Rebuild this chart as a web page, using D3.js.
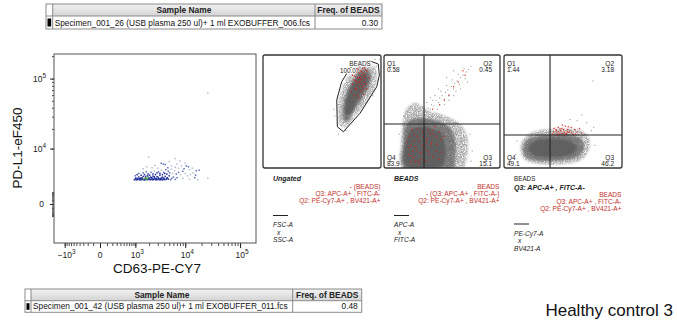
<!DOCTYPE html>
<html>
<head>
<meta charset="utf-8">
<script src="https://cdn.jsdelivr.net/npm/d3@7"></script>
<style>
  body { margin: 0; background: #fff; }
  svg { display: block; font-family: "Liberation Sans", Arial, sans-serif; }
</style>
</head>
<body>
<svg id="chart" width="677" height="323"></svg>
<script>
// ---------- data ----------
const tableHeaders = ["Sample Name", "Freq. of BEADS"];
const topSampleName = "Specimen_001_26 (USB plasma 250 ul)+ 1 ml EXOBUFFER_006.fcs";
const topFreq = "0.30";
const bottomSampleName = "Specimen_001_42 (USB plasma 250 ul)+ 1 ml EXOBUFFER_011.fcs";
const bottomFreq = "0.48";
const caseLabel = "Healthy control 3";

const mainXLabel = "CD63-PE-CY7";
const mainYLabel = "PD-L1-eF450";
const mainTicksX = [-1000, 0, 1000, 10000, 100000];
const mainTicksY = [0, 10000, 100000];

// events of the large plot: [CD63-PE-CY7, PD-L1-eF450]
const mainEvents = [
  [950,2500],[1000,2600],[1050,2480],[1100,2700],[1150,2550],[1200,2900],[1250,2500],[1300,2650],
  [1350,2800],[1400,2520],[1450,2600],[1500,3000],[1550,2480],[1600,2700],[1650,2550],[1700,2850],
  [1750,2500],[1800,2650],[1850,3100],[1900,2520],[1950,2750],[2000,2600],[2100,2480],[2150,2900],
  [2200,2550],[2300,2700],[2350,2500],[2400,3050],[2500,2600],[2600,2800],[2700,2500],[2800,2650],
  [2900,2950],[3000,2520],[3100,2700],[3200,2600],[3300,3200],[3400,2500],[3500,2750],[3600,2600],
  [3700,2900],[3800,2520],[4000,2650],[4200,3000],[4400,2550],[4600,2800],[4800,2600],[5000,3100],
  [5300,2500],[5600,2700],[6000,2900],[6500,2550],[7000,2800],
  [1020,2750],[1120,2520],[1230,2640],[1320,2500],[1420,2760],[1520,2560],[1620,2500],[1720,2650],
  [1820,2540],[1920,2900],[2050,2700],[2250,2800],[2450,2520],[2650,2620],[2850,2520],[3050,2850],
  [3250,2500],[3450,2650],[3650,2500],[3900,2750],[4100,2520],[4500,2700],[2550,2950],[1680,3000],
  [1000,3100],[1100,3300],[1200,3500],[1350,3200],[1500,3600],[1600,3300],[1750,3800],[1900,3400],
  [2050,3200],[2200,3700],[2400,3400],[2550,3900],[2700,3300],[2900,3600],[3100,3800],[3300,3500],
  [3500,4100],[3700,3300],[3900,3700],[4100,3500],[4300,4200],[4500,3400],[4800,3900],[5100,3600],
  [5500,4300],[5900,3500],[6300,4000],[6800,3400],[7500,3700],[8200,3300],[9000,3900],[10000,3500],
  [11000,3100],[12500,3300],[14000,3600],[15500,3200],
  [1500,4400],[1800,4800],[1950,7200],[2300,4600],[2600,5100],[3000,4500],[3500,5600],[3850,5400],
  [4200,5300],[4700,4600],[5000,6000],[5500,5000],[6500,6800],[6500,4700],[7000,5400],[7500,4500],
  [8000,6200],[8500,5000],[9500,4400],[10000,5650],[10500,5000],[11500,4800],[12000,4200],[13500,4500],
  [16000,4000],[18000,4100],[9000,2700],[12000,2600],[15000,2800],[17000,2500],
  [26000,2700],[26000,64000]
];

// Ungated (FSC-A x SSC-A), channel units 0..1000
const beadsGate = [[794,932],[907,947],[977,920],[986,823],[964,719],[822,484],[681,321],[630,365],[625,602],[667,764],[737,882]];
const ungatedHalo = [[660,370],[640,450],[645,600],[680,730],[745,845],[810,910],[890,925],[950,890],[965,810],[940,690],[865,565],[775,450],[715,370]];
const ungatedCore = [[685,420],[678,531],[708,670],[758,775],[822,860],[885,875],[915,830],[900,726],[835,605],[768,500],[722,420]];
const ungatedDark = [[705,470],[700,580],[740,700],[800,800],[860,840],[890,800],[860,700],[800,600],[740,480]];
const ungatedSparse = [[640,300],[610,460],[960,900],[990,960],[700,330],[980,780],[600,520],[930,640],[660,380],[950,960],[640,560]];
const ungatedRed = [[760,820],[790,850],[810,800],[830,860],[850,840],[870,820],[800,760],[820,720],[840,780],[860,760],
  [780,700],[800,650],[830,680],[850,700],[770,780],[880,860],[820,900],[845,880],[795,880],[865,790],
  [810,620],[790,730],[835,740],[875,740],[760,740],[750,680],[815,840],[860,890],[780,810],[900,800],
  [770,640],[825,780],[855,650],[800,800],[880,700],[805,870],[835,820],[855,810],[785,770],[815,760],
  [840,850],[870,870],[825,800],[795,700],[845,720]];

// BEADS (APC-A x FITC-A)
const beadsQuad = [345, 389];
const beadsFreq = ["0.58", "0.45", "15.1", "83.9"]; // Q1, Q2, Q3, Q4
const beadsHalo = [[160,0],[150,248],[165,430],[200,530],[265,575],[330,545],[400,500],[520,465],[630,410],[700,330],[725,204],[710,71],[680,0]];
const beadsCore = [[172,0],[166,204],[183,375],[241,430],[353,440],[483,410],[575,350],[615,248],[615,88],[595,0]];
const beadsDark = [[190,20],[188,240],[235,340],[370,360],[490,310],[530,177],[500,20]];
const beadsSparse = [[360,500],[380,530],[400,520],[410,560],[430,550],[450,600],[470,580],[480,620],[500,640],[520,610],
  [530,670],[550,690],[560,650],[580,720],[600,700],[610,750],[630,770],[650,740],[660,800],[680,820],
  [700,790],[710,850],[730,870],[750,900],[690,880],[640,830],[590,780],[540,730],[490,680],[440,640],
  [420,600],[370,580],[330,540],[300,500],[280,470],[250,480],[520,560],[600,640],[660,700],[720,760],
  [460,520],[560,600],[620,680],[470,700],[540,800],[600,860],[400,620],[200,500],[170,460],[230,540],
  [740,300],[760,150],[750,60],[130,300],[140,120]];
const beadsRed = [[210,120],[230,200],[250,90],[260,300],[280,160],[300,240],[320,80],[330,320],[350,180],[370,260],
  [390,120],[410,220],[430,300],[450,150],[470,80],[490,250],[220,280],[240,340],[270,60],[290,350],
  [310,130],[340,280],[360,60],[380,340],[400,200],[420,100],[440,360],[460,210],[480,320],[500,140],
  [520,280],[215,180],[255,240],[295,60],[335,200],[375,150],[415,330],[455,280],[230,50],[265,190],
  [200,230],[245,150],[285,280],[325,140],[305,40],[365,230],[395,300],[235,110],
  [480,560],[560,640],[640,760],[700,820],[520,600],[600,720],[420,520],[680,860]];

// BEADS / Q3 (PE-Cy7-A x BV421-A)
const q3Quad = [390, 292];
const q3Freq = ["1.44", "3.18", "46.2", "49.1"];
const q3Halo = [[140,159],[160,250],[225,310],[347,340],[517,350],[655,330],[720,270],[720,159],[665,80],[517,35],[305,35],[180,70]];
const q3Core = [[160,159],[185,240],[270,280],[432,295],[600,285],[665,240],[675,159],[615,95],[432,62],[245,70],[175,110]];
const q3Dark = [[210,177],[263,240],[432,258],[570,232],[620,177],[555,112],[390,95],[240,120]];
const q3Sparse = [[620,420],[700,400],[560,430],[740,330],[760,360],[660,470],[754,770],[110,240],[770,200],[100,120]];
const q3Red = [[410,300],[420,320],[430,295],[440,340],[450,310],[460,360],[470,300],[480,330],[490,350],[500,305],
  [510,320],[520,370],[530,300],[540,340],[550,315],[560,330],[570,360],[585,300],[600,340],[620,320],
  [640,350],[660,310],[425,350],[455,290],[495,380],[515,290],[545,365],[575,310],[605,300],[445,330],
  [475,345],[535,325],[465,320],[505,340],[525,310],[485,300]];

const captions = [
  { pre: "", title: "Ungated", red: ["- (BEADS)", "Q3: APC-A+ , FITC-A-", "Q2: PE-Cy7-A+ , BV421-A+"], axes: ["FSC-A", "x", "SSC-A"] },
  { pre: "", title: "BEADS", red: ["BEADS", "- (Q3: APC-A+ , FITC-A-)", "Q2: PE-Cy7-A+ , BV421-A+"], axes: ["APC-A", "x", "FITC-A"] },
  { pre: "BEADS", title: "Q3: APC-A+ , FITC-A-", red: ["BEADS", "Q3: APC-A+ , FITC-A-", "Q2: PE-Cy7-A+ , BV421-A+"], axes: ["PE-Cy7-A", "x", "BV421-A"] }
];

// ---------- drawing ----------
const svg = d3.select("#chart");
const defs = svg.append("defs");

const hg = defs.append("linearGradient").attr("id", "hdr").attr("x1", 0).attr("y1", 0).attr("x2", 0).attr("y2", 1);
hg.append("stop").attr("offset", "0%").attr("stop-color", "#f2f2f2");
hg.append("stop").attr("offset", "100%").attr("stop-color", "#d4d4d4");

// soft blur with light speckle so the density clouds read as dots
function grainFilter(id, blur, seed, matrix) {
  const f = defs.append("filter").attr("id", id).attr("x", "-30%").attr("y", "-30%").attr("width", "160%").attr("height", "160%");
  f.append("feGaussianBlur").attr("in", "SourceGraphic").attr("stdDeviation", blur).attr("result", "b");
  f.append("feTurbulence").attr("type", "fractalNoise").attr("baseFrequency", 1.1).attr("numOctaves", 1).attr("seed", seed).attr("result", "n");
  f.append("feColorMatrix").attr("in", "n").attr("type", "matrix")
    .attr("values", "0 0 0 0 0  0 0 0 0 0  0 0 0 0 0  " + matrix).attr("result", "m");
  f.append("feComposite").attr("in", "b").attr("in2", "m").attr("operator", "in");
}
grainFilter("grainSoft", 1.3, 3, "3 0 0 0 -0.8");
grainFilter("grainCore", 0.9, 7, "2 0 0 0 0");
defs.append("filter").attr("id", "soft").append("feGaussianBlur").attr("stdDeviation", 1.2);

function drawTable(x, y, widths, rowH, name, freq) {
  const g = svg.append("g");
  const total = d3.sum(widths);
  const xs = [x, x + widths[0], x + widths[0] + widths[1], x + total];
  g.append("rect").attr("x", x).attr("y", y).attr("width", total).attr("height", rowH[0])
    .attr("fill", "url(#hdr)");
  g.append("rect").attr("x", x).attr("y", y).attr("width", widths[0]).attr("height", rowH[0]).attr("fill", "#fff");
  g.append("rect").attr("x", x).attr("y", y).attr("width", total).attr("height", rowH[0] + rowH[1])
    .attr("fill", "none").attr("stroke", "#8a8a8a").attr("stroke-width", 1);
  g.append("line").attr("x1", x).attr("x2", x + total).attr("y1", y + rowH[0]).attr("y2", y + rowH[0])
    .attr("stroke", "#8a8a8a");
  for (const cx of xs.slice(1, 3)) {
    g.append("line").attr("x1", cx).attr("x2", cx).attr("y1", y).attr("y2", y + rowH[0] + rowH[1]).attr("stroke", "#8a8a8a");
  }
  g.append("rect").attr("x", x + 1.5).attr("y", y + rowH[0] + 2.5).attr("width", widths[0] - 3).attr("height", rowH[1] - 5).attr("fill", "#000");
  g.append("text").attr("x", (xs[1] + xs[2]) / 2).attr("y", y + rowH[0] - 3).attr("text-anchor", "middle")
    .attr("font-size", 8.4).attr("font-weight", "bold").attr("fill", "#222").text(tableHeaders[0]);
  g.append("text").attr("x", (xs[2] + xs[3]) / 2).attr("y", y + rowH[0] - 3).attr("text-anchor", "middle")
    .attr("font-size", 8.4).attr("font-weight", "bold").attr("fill", "#222").text(tableHeaders[1]);
  g.append("text").attr("x", xs[1] + 2).attr("y", y + rowH[0] + rowH[1] - 3.5)
    .attr("font-size", 8.3).attr("fill", "#111").text(name);
  g.append("text").attr("x", xs[3] - 4).attr("y", y + rowH[0] + rowH[1] - 3.5).attr("text-anchor", "end")
    .attr("font-size", 8.3).attr("fill", "#111").text(freq);
}

drawTable(46, 4, [6.7, 262.3, 67], [12, 13], topSampleName, topFreq);
drawTable(25, 289, [6, 261.7, 69], [11.7, 11.6], bottomSampleName, bottomFreq);

svg.append("text").attr("x", 673).attr("y", 316).attr("text-anchor", "end")
  .attr("font-size", 17).attr("fill", "#111").text(caseLabel);

// ---------- large plot ----------
const plot = {left: 54, right: 256, top: 54, bottom: 243};
const xMain = d3.scaleSymlog().constant(300).domain([-1726, 194000]).range([plot.left, plot.right]);
const yMain = d3.scaleSymlog().constant(2300).domain([-5180, 213000]).range([plot.bottom, plot.top]);

svg.append("rect").attr("x", plot.left).attr("y", plot.top).attr("width", plot.right - plot.left)
  .attr("height", plot.bottom - plot.top).attr("fill", "#fff");

function minorTicks(lo, hi) {
  const out = [];
  for (let d = 100; d <= 100000; d *= 10) {
    for (let k = 1; k <= 9; k++) {
      const v = k * d;
      if (v <= hi) out.push(v);
      if (-v >= lo) out.push(-v);
    }
  }
  return out;
}

const xAxis = d3.axisBottom(xMain).tickValues(minorTicks(-1726, 194000)).tickSize(3).tickFormat("");
svg.append("g").attr("transform", `translate(0,${plot.bottom})`).call(xAxis)
  .call(g => g.select(".domain").remove())
  .call(g => g.selectAll("line").attr("stroke", "#222").attr("stroke-width", 0.8));
svg.append("g").attr("transform", `translate(0,${plot.bottom})`)
  .call(d3.axisBottom(xMain).tickValues(mainTicksX).tickSize(5).tickFormat(""))
  .call(g => g.select(".domain").remove())
  .call(g => g.selectAll("line").attr("stroke", "#222"));

const yAxis = d3.axisLeft(yMain).tickValues(minorTicks(-5180, 213000).filter(v => Math.abs(v) <= 1000 || v >= 10000)).tickSize(2).tickFormat("");
svg.append("g").attr("transform", `translate(${plot.left},0)`).call(yAxis)
  .call(g => g.select(".domain").remove())
  .call(g => g.selectAll("line").attr("stroke", "#222").attr("stroke-width", 0.8));
svg.append("g").attr("transform", `translate(${plot.left},0)`)
  .call(d3.axisLeft(yMain).tickValues(mainTicksY).tickSize(4).tickFormat(""))
  .call(g => g.select(".domain").remove())
  .call(g => g.selectAll("line").attr("stroke", "#222"));

// tick labels with superscript exponents
function powLabel(sel, v) {
  if (v === 0) { sel.text("0"); return; }
  const e = Math.round(Math.log10(Math.abs(v)));
  sel.append("tspan").text((v < 0 ? "\u221210" : "10"));
  sel.append("tspan").attr("dy", -4).attr("font-size", 6.5).text(e);
}
svg.append("g").selectAll("text").data(mainTicksX).join("text")
  .attr("x", d => xMain(d) + (d === 0 ? 0 : 2)).attr("y", 258).attr("text-anchor", "middle")
  .attr("font-size", 8.5).attr("fill", "#222")
  .each(function (d) { powLabel(d3.select(this), d); });
svg.append("g").selectAll("text").data(mainTicksY).join("text")
  .attr("x", d => d === 0 ? 44 : 46).attr("y", d => yMain(d) + 3).attr("text-anchor", "end")
  .attr("font-size", 8.5).attr("fill", "#222")
  .each(function (d) { powLabel(d3.select(this), d); });

svg.append("text").attr("x", 157).attr("y", 273).attr("text-anchor", "middle")
  .attr("font-size", 13.5).attr("fill", "#111").text(mainXLabel);
svg.append("text").attr("transform", "translate(22,148) rotate(-90)").attr("text-anchor", "middle")
  .attr("font-size", 13.5).attr("fill", "#111").text(mainYLabel);

// pseudocolour by local density
const px = mainEvents.map(d => [xMain(d[0]), yMain(d[1])]);
const dens = px.map(p => px.filter(q => Math.hypot(p[0] - q[0], p[1] - q[1]) < 3).length);
const densColor = n => n <= 1 ? "#b4bccf" : n <= 3 ? "#5e70b8" : n <= 12 ? "#22309a" : n <= 14 ? "#2a8c6a" : "#d8a820";
svg.append("g").selectAll("rect").data(mainEvents).join("rect")
  .attr("x", (d, i) => px[i][0] - 0.75).attr("y", (d, i) => px[i][1] - 0.75)
  .attr("width", 1.5).attr("height", 1.5)
  .attr("fill", (d, i) => densColor(dens[i]));

svg.append("rect").attr("x", plot.left).attr("y", plot.top).attr("width", plot.right - plot.left)
  .attr("height", plot.bottom - plot.top).attr("fill", "none").attr("stroke", "#555").attr("stroke-width", 1);

// ---------- gating panels ----------
function drawPanel(box, layers, sparse, red, extra) {
  const x = d3.scaleLinear().domain([0, 1000]).range([box.x0, box.x1]);
  const y = d3.scaleLinear().domain([0, 1000]).range([box.y1, box.y0]);
  const id = "clip" + box.x0;
  defs.append("clipPath").attr("id", id).append("rect")
    .attr("x", box.x0).attr("y", box.y0).attr("width", box.x1 - box.x0).attr("height", box.y1 - box.y0);
  const g = svg.append("g");
  g.append("rect").attr("x", box.x0).attr("y", box.y0).attr("width", box.x1 - box.x0).attr("height", box.y1 - box.y0).attr("fill", "#fff");
  const inner = g.append("g").attr("clip-path", `url(#${id})`);
  const line = d3.line().x(d => x(d[0])).y(d => y(d[1])).curve(d3.curveCatmullRomClosed);
  inner.append("path").datum(layers[0]).attr("d", line).attr("fill", "#a8a8a8").attr("filter", "url(#grainSoft)");
  inner.append("path").datum(layers[1]).attr("d", line).attr("fill", "#767676").attr("filter", "url(#grainCore)");
  inner.append("path").datum(layers[2]).attr("d", line).attr("fill", "#5c5c5c").attr("opacity", 0.85).attr("filter", "url(#soft)");
  inner.append("g").selectAll("rect").data(sparse).join("rect")
    .attr("x", d => x(d[0]) - 0.5).attr("y", d => y(d[1]) - 0.5).attr("width", 1).attr("height", 1).attr("fill", "#8a8a8a");
  inner.append("g").selectAll("rect").data(red).join("rect")
    .attr("x", d => x(d[0]) - 0.6).attr("y", d => y(d[1]) - 0.6).attr("width", 1.2).attr("height", 1.2).attr("fill", "#d8201c");
  if (extra) extra(g, x, y);
  g.append("rect").attr("x", box.x0).attr("y", box.y0).attr("width", box.x1 - box.x0).attr("height", box.y1 - box.y0)
    .attr("rx", 2).attr("fill", "none").attr("stroke", "#333").attr("stroke-width", 1.3);
}

function quadrants(quad, freq) {
  return (g, x, y) => {
    const [x0, x1] = x.range(), [y1, y0] = y.range();
    g.append("line").attr("x1", x(quad[0])).attr("x2", x(quad[0])).attr("y1", y0).attr("y2", y1).attr("stroke", "#222").attr("stroke-width", 1.1);
    g.append("line").attr("x1", x0).attr("x2", x1).attr("y1", y(quad[1])).attr("y2", y(quad[1])).attr("stroke", "#222").attr("stroke-width", 1.1);
    const lab = [["Q1", freq[0], x0 + 3, y0 + 11, "start"], ["Q2", freq[1], x1 - 8, y0 + 11, "end"],
                 ["Q3", freq[2], x1 - 8, y1 - 8, "end"], ["Q4", freq[3], x0 + 3, y1 - 8, "start"]];
    for (const l of lab) {
      g.append("text").attr("x", l[2]).attr("y", l[3]).attr("text-anchor", l[4]).attr("font-size", 6.5).attr("fill", "#222").text(l[0]);
      g.append("text").attr("x", l[2]).attr("y", l[3] + 6.2).attr("text-anchor", l[4]).attr("font-size", 6.5).attr("fill", "#222").text(l[1]);
    }
  };
}

const boxes = [
  {x0: 263, x1: 381, y0: 55, y1: 168},
  {x0: 384, x1: 500, y0: 55, y1: 168},
  {x0: 504, x1: 622, y0: 55, y1: 168}
];

drawPanel(boxes[0], [ungatedHalo, ungatedCore, ungatedDark], ungatedSparse, ungatedRed, (g, x, y) => {
  g.append("path").datum(beadsGate)
    .attr("d", d3.line().x(d => x(d[0])).y(d => y(d[1])).curve(d3.curveLinearClosed))
    .attr("fill", "none").attr("stroke", "#222").attr("stroke-width", 1);
  g.append("text").attr("x", 360).attr("y", 66).attr("text-anchor", "middle").attr("font-size", 6.3)
    .attr("fill", "#222").attr("stroke", "#fff").attr("stroke-width", 2).attr("paint-order", "stroke").text("BEADS");
  g.append("text").attr("x", 348).attr("y", 72.5).attr("text-anchor", "middle").attr("font-size", 6.3)
    .attr("fill", "#222").attr("stroke", "#fff").attr("stroke-width", 2).attr("paint-order", "stroke").text("100.0");
});
drawPanel(boxes[1], [beadsHalo, beadsCore, beadsDark], beadsSparse, beadsRed, quadrants(beadsQuad, beadsFreq));
drawPanel(boxes[2], [q3Halo, q3Core, q3Dark], q3Sparse, q3Red, quadrants(q3Quad, q3Freq));

// captions under each panel
captions.forEach((c, i) => {
  const b = boxes[i];
  const g = svg.append("g").attr("fill", "#222");
  const tx = b.x0 + 10;
  let yy = 181;
  if (c.pre) {
    g.append("text").attr("x", tx).attr("y", yy).attr("font-size", 6.3).text(c.pre);
    yy += 8.5;
  }
  g.append("text").attr("x", tx).attr("y", yy).attr("font-size", 7).attr("font-weight", "bold")
    .attr("font-style", "italic").text(c.title);
  yy += 7.5;
  c.red.forEach((t, k) => {
    g.append("text").attr("x", b.x1 - 0.5).attr("y", yy + k * 7).attr("text-anchor", "end")
      .attr("font-size", 6.6).attr("fill", "#c4302b").text(t);
  });
  yy += 3 * 7 + 6;
  g.append("line").attr("x1", tx).attr("x2", tx + 15).attr("y1", yy).attr("y2", yy).attr("stroke", "#222").attr("stroke-width", 1);
  c.axes.forEach((t, k) => {
    g.append("text").attr("x", tx + (k === 1 ? 4 : 0)).attr("y", yy + 11.5 + k * 7.5)
      .attr("font-size", 6.6).attr("font-style", "italic").text(t);
  });
});
</script>
</body>
</html>
